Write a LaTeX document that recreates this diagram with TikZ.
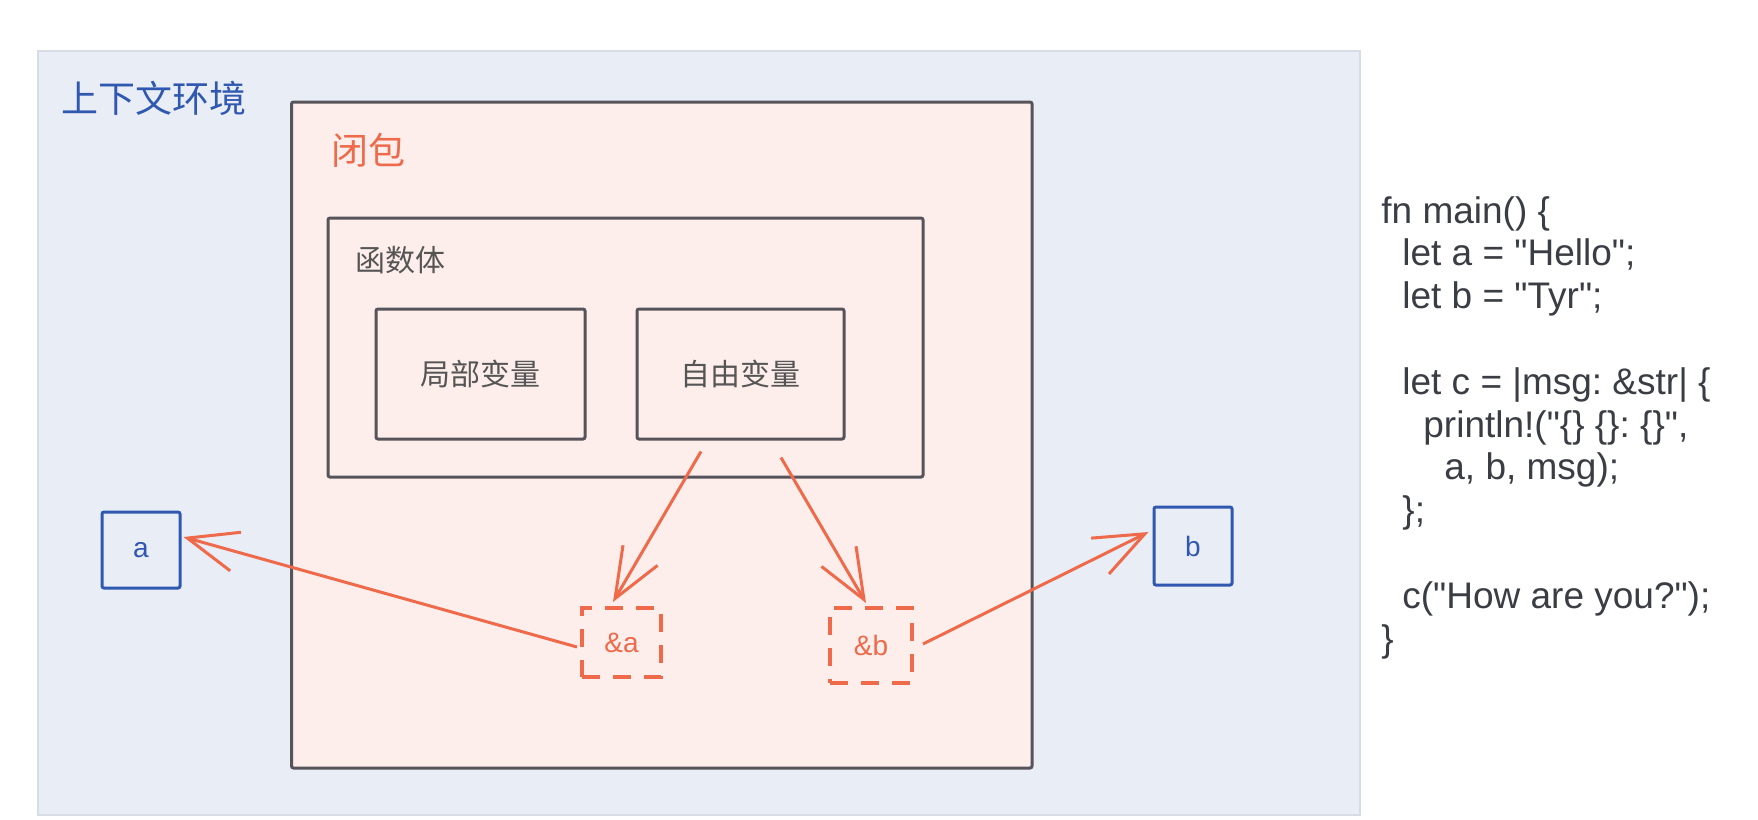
\documentclass[tikz,border=0pt]{standalone}
\usepackage{fontspec}
\setmainfont{Liberation Sans}
\newfontfamily\cjk{Noto Sans CJK SC}
\newfontfamily\codefont{Liberation Sans}
\usetikzlibrary{arrows.meta,calc}
\definecolor{ctxfill}{RGB}{232,237,246}
\definecolor{ctxline}{RGB}{216,220,228}
\definecolor{ctxblue}{RGB}{48,88,176}
\definecolor{clofill}{RGB}{253,238,235}
\definecolor{boxgray}{RGB}{86,84,90}
\definecolor{txtgray}{RGB}{85,85,85}
\definecolor{orng}{RGB}{238,106,74}
\definecolor{codegray}{RGB}{58,62,68}
\frenchspacing
\begin{document}
\begin{tikzpicture}[x=0.5pt,y=-0.5pt,
  frame/.style={draw=boxgray, line width=1.5pt, rounded corners=1pt, inner sep=0pt},
  varbox/.style={frame, font=\cjk\fontsize{15}{18}\selectfont, text=txtgray},
  bluebox/.style={draw=ctxblue, line width=1.5pt, rounded corners=1pt, fill=ctxfill, inner sep=0pt,
    minimum width=39pt, minimum height=38pt, text=ctxblue, font=\fontsize{14}{16}\selectfont},
  refbox/.style={draw=orng, line width=2pt, dash pattern=on 9pt off 6.5pt, inner sep=0pt,
    text=orng, font=\fontsize{14}{16}\selectfont},
  arr/.style={draw=orng, line width=1.5pt, -{Straight Barb[length=25pt,width=20pt,line width=1.5pt]}},
  code/.style={anchor=base west, inner sep=0pt, text=codegray, font=\codefont\fontsize{18.5}{21}\selectfont},
  label/.style={anchor=west, inner sep=0pt}]
\useasboundingbox (0,0) rectangle (1758,820);
\fill[white] (0,0) rectangle (1758,820);
% context
\node[draw=ctxline, line width=0.6pt, fill=ctxfill, inner sep=0pt, minimum width=661pt, minimum height=382pt] (ctx) at (699,433) {};
\node[label, text=ctxblue, font=\cjk\fontsize{18.5}{22}\selectfont] (title) at (61,98) {上下文环境};
% closure
\node[frame, fill=clofill, minimum width=370.25pt, minimum height=333pt] (clo) at (661.75,435) {};
\node[label, text=orng, font=\cjk\fontsize{18.5}{22}\selectfont] (clotitle) at (331,150) {闭包};
% function body
\node[frame, minimum width=297.5pt, minimum height=129.5pt] (body) at (625.5,347.5) {};
\node[label, text=txtgray, font=\cjk\fontsize{15}{18}\selectfont] (bodytitle) at (355,260.5) {函数体};
\node[varbox, minimum width=104.5pt, minimum height=65pt] (jubu) at (480.5,374) {局部变量};
\node[varbox, minimum width=103.5pt, minimum height=65pt] (ziyou) at (740.5,374) {自由变量};
% variables
\node[bluebox] (a) at (141,550) {a};
\node[bluebox, minimum height=39pt] (b) at (1193,546) {b};
\node[refbox, minimum width=39.5pt, minimum height=34.5pt] (pa) at (621.5,642.5) {\&a};
\node[refbox, minimum width=41pt, minimum height=37.5pt] (pb) at (871,645.5) {\&b};
% arrows
\draw[arr] ([xshift=-19.75pt,yshift=-5.5pt]ziyou.south) -- ([xshift=-4.25pt,yshift=2pt]pa.north);
\draw[arr] ([xshift=20.25pt,yshift=-8.5pt]ziyou.south) -- ([xshift=-2.5pt,yshift=1.5pt]pb.north);
\draw[arr] ([xshift=-1.5pt,yshift=-2.25pt]pa.west) -- ([xshift=1pt,yshift=6.5pt]a.east);
\draw[arr] ([xshift=4.5pt,yshift=0.75pt]pb.east) -- ([xshift=-2pt,yshift=7pt]b.west);
% code
\node[code] (c1) at (1381,223) {fn main() \{};
\node[code] (c2) at (1402,265.8) {let a = "Hello";};
\node[code] (c3) at (1402,308.6) {let b = "Tyr";};
\node[code] (c4) at (1402,394.2) {let c = |msg: \&str| \{};
\node[code] (c5) at (1423,437) {println!("\{\} \{\}: \{\}",};
\node[code] (c6) at (1444,479.8) {a, b, msg);};
\node[code] (c7) at (1402,522.6) {\};};
\node[code] (c8) at (1402,608.2) {c("How are you?");};
\node[code] (c9) at (1381,651) {\}};
\end{tikzpicture}
\end{document}
